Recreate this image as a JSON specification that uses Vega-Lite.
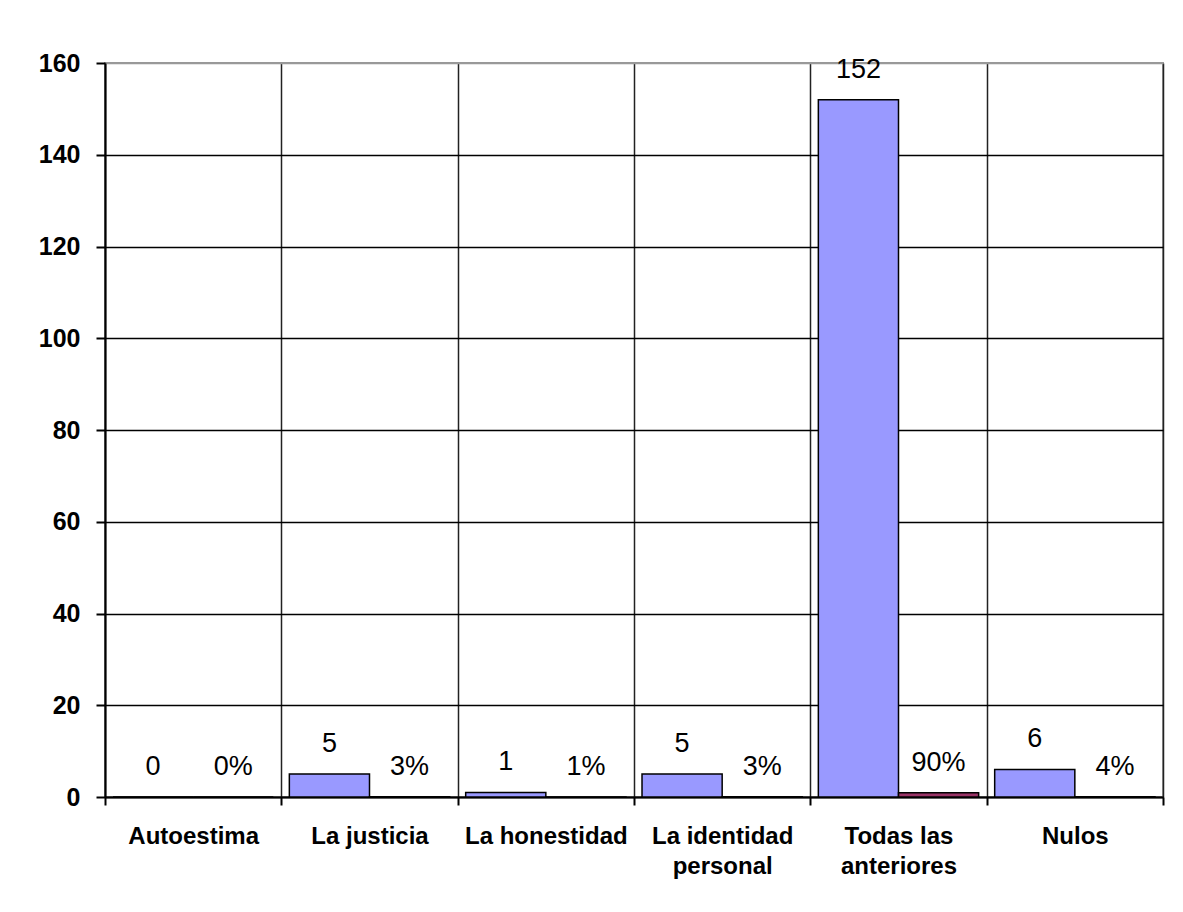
{
  "$schema": "https://vega.github.io/schema/vega-lite/v6.json",
  "width": 1058,
  "height": 734,
  "autosize": "none",
  "padding": {"left": 105, "top": 63, "right": 20, "bottom": 115},
  "background": "white",
  "data": {
    "values": [
      {"categoria": "Autoestima", "serie": "Cantidad", "valor": 0, "etiqueta": "0"},
      {"categoria": "Autoestima", "serie": "Porcentaje", "valor": 0, "etiqueta": "0%"},
      {"categoria": "La justicia", "serie": "Cantidad", "valor": 5, "etiqueta": "5"},
      {"categoria": "La justicia", "serie": "Porcentaje", "valor": 0.03, "etiqueta": "3%"},
      {"categoria": "La honestidad", "serie": "Cantidad", "valor": 1, "etiqueta": "1"},
      {"categoria": "La honestidad", "serie": "Porcentaje", "valor": 0.01, "etiqueta": "1%"},
      {"categoria": "La identidad personal", "serie": "Cantidad", "valor": 5, "etiqueta": "5"},
      {"categoria": "La identidad personal", "serie": "Porcentaje", "valor": 0.03, "etiqueta": "3%"},
      {"categoria": "Todas las anteriores", "serie": "Cantidad", "valor": 152, "etiqueta": "152"},
      {"categoria": "Todas las anteriores", "serie": "Porcentaje", "valor": 0.9, "etiqueta": "90%"},
      {"categoria": "Nulos", "serie": "Cantidad", "valor": 6, "etiqueta": "6"},
      {"categoria": "Nulos", "serie": "Porcentaje", "valor": 0.04, "etiqueta": "4%"}
    ]
  },
  "encoding": {
    "x": {
      "field": "categoria",
      "type": "nominal",
      "sort": null,
      "scale": {"paddingInner": 0, "paddingOuter": 0},
      "axis": {
        "title": null,
        "labelAngle": 0,
        "labelFont": "Liberation Sans",
        "labelFontWeight": "bold",
        "labelFontSize": 24,
        "labelColor": "black",
        "labelPadding": 19,
        "labelLimit": 0,
        "labelLineHeight": 30,
        "labelExpr": "datum.value == 'La identidad personal' ? ['La identidad', 'personal'] : datum.value == 'Todas las anteriores' ? ['Todas las', 'anteriores'] : datum.value",
        "tickBand": "extent",
        "tickSize": 8,
        "tickColor": "black",
        "tickWidth": 2,
        "domainColor": "black",
        "domainWidth": 2,
        "grid": true,
        "gridColor": "#222222",
        "gridWidth": 1.5
      }
    },
    "xOffset": {
      "field": "serie",
      "sort": ["Cantidad", "Porcentaje"],
      "scale": {"paddingInner": 0, "paddingOuter": 0.1}
    },
    "y": {
      "field": "valor",
      "type": "quantitative",
      "scale": {"domain": [0, 160], "nice": false},
      "axis": {
        "title": null,
        "values": [0, 20, 40, 60, 80, 100, 120, 140, 160],
        "labelFont": "Liberation Sans",
        "labelFontWeight": "bold",
        "labelFontSize": 25,
        "labelColor": "black",
        "labelPadding": 16,
        "tickSize": 9,
        "tickColor": "black",
        "tickWidth": 2,
        "domainColor": "black",
        "domainWidth": 2,
        "grid": true,
        "gridColor": {"condition": {"test": "datum.value === 160", "value": "#999999"}, "value": "black"},
        "gridWidth": 1.5
      }
    }
  },
  "layer": [
    {
      "mark": {"type": "bar", "stroke": "black", "strokeWidth": 1.5},
      "encoding": {
        "color": {
          "field": "serie",
          "type": "nominal",
          "sort": ["Cantidad", "Porcentaje"],
          "scale": {"range": ["#9999FF", "#993366"]},
          "legend": null
        }
      }
    },
    {
      "mark": {
        "type": "text",
        "dy": -22,
        "baseline": "alphabetic",
        "font": "Liberation Sans",
        "fontSize": 27,
        "color": "black"
      },
      "encoding": {"text": {"field": "etiqueta"}}
    }
  ],
  "config": {"view": {"stroke": "#999999", "strokeWidth": 2}}
}
